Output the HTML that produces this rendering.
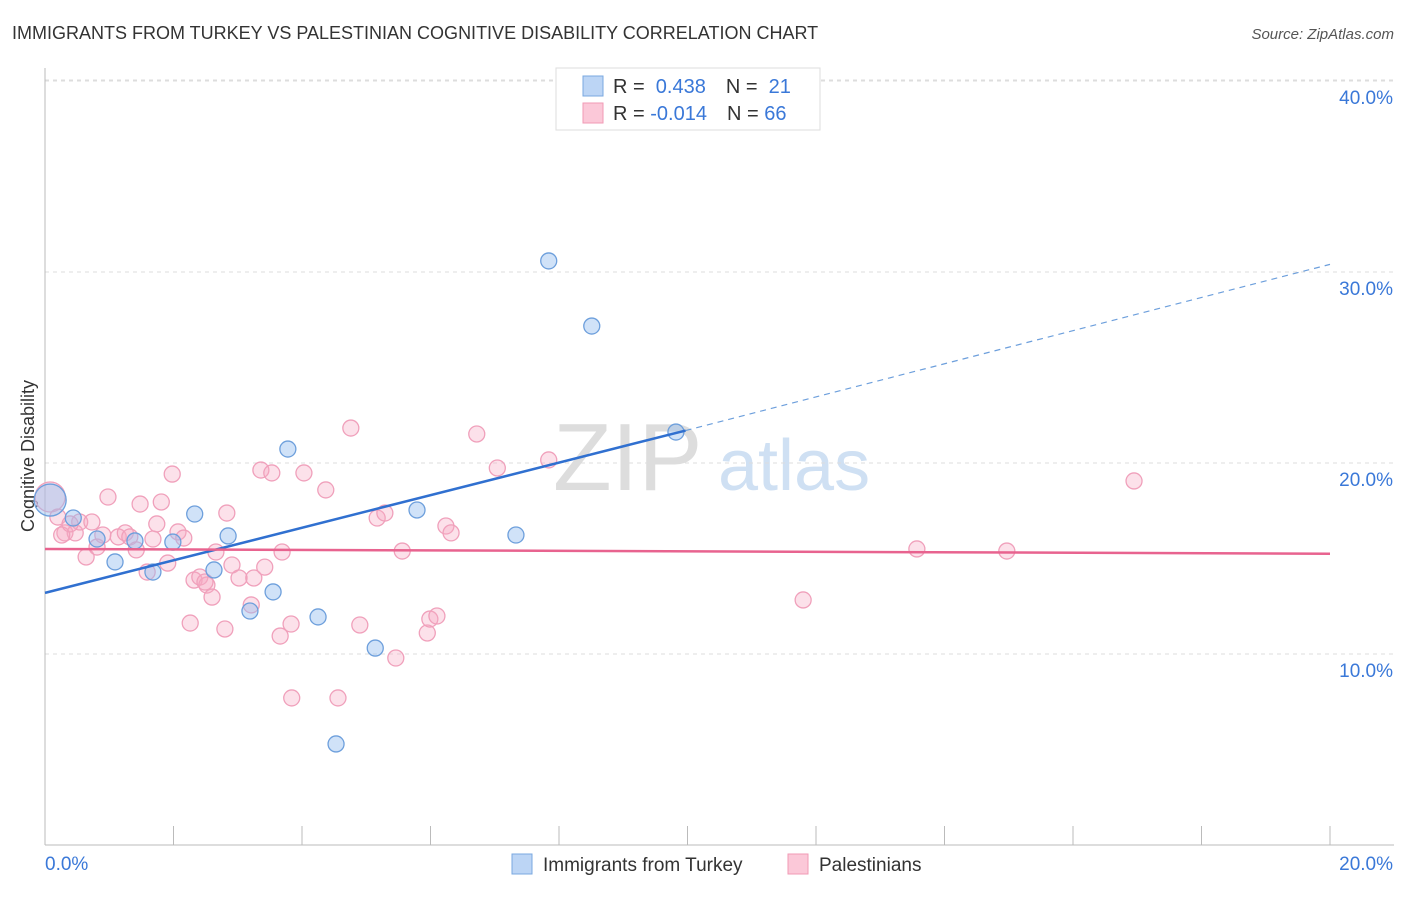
<!DOCTYPE html>
<html><head><meta charset="utf-8"><style>
body{margin:0;background:#fff;font-family:"Liberation Sans",sans-serif;}
svg text{font-family:"Liberation Sans",sans-serif;}
</style></head><body>
<svg id="c" width="1406" height="892">
<text x="12" y="39" font-size="18" fill="#333">IMMIGRANTS FROM TURKEY VS PALESTINIAN COGNITIVE DISABILITY CORRELATION CHART</text>
<text x="1394" y="39" font-size="15" fill="#555" text-anchor="end" font-style="italic">Source: ZipAtlas.com</text>
<text x="0" y="0" transform="translate(34,456) rotate(-90)" font-size="18" fill="#333" text-anchor="middle">Cognitive Disability</text>
<g><text x="553" y="490" font-size="96" fill="#ddd" font-family="Liberation Serif,serif">ZIP</text><text x="718" y="490" font-size="72" fill="#cfe0f3">atlas</text></g>
<g id="grid"></g><g id="axes"></g><g id="pts"></g><g id="trend"></g>
<g>
<rect x="556" y="68" width="264" height="62" fill="#fff" stroke="#ddd"/>
<rect x="583" y="76" width="20" height="20" fill="#bcd5f5" stroke="#7aa8e0"/>
<rect x="583" y="103" width="20" height="20" fill="#fbc8d8" stroke="#f09ab5"/>
<text x="613" y="93" font-size="20" fill="#333">R = <tspan fill="#3a78d8">&#160;0.438</tspan><tspan dx="20">N = </tspan><tspan fill="#3a78d8">&#160;21</tspan></text>
<text x="613" y="120" font-size="20" fill="#333">R = <tspan fill="#3a78d8">-0.014</tspan><tspan dx="20">N = </tspan><tspan fill="#3a78d8">66</tspan></text>
</g>
<g>
<rect x="512" y="854" width="20" height="20" fill="#bcd5f5" stroke="#7aa8e0"/>
<text x="543" y="871" font-size="19" fill="#333">Immigrants from Turkey</text>
<rect x="788" y="854" width="20" height="20" fill="#fbc8d8" stroke="#f09ab5"/>
<text x="819" y="871" font-size="19" fill="#333">Palestinians</text>
</g>
</svg>
<script>
const yTicks=[10,20,30,40];
const blueX=[0.08,0.44,0.81,1.09,1.40,1.68,1.99,2.33,2.63,2.85,3.19,3.55,3.78,4.25,4.53,5.14,5.79,7.33,7.84,8.51,9.82];
const blueY=[18.06,17.12,16.02,14.82,15.92,14.29,15.86,17.33,14.40,16.18,12.25,13.25,20.73,11.94,5.29,10.31,17.54,16.23,30.58,27.17,21.62];
const pinkX=[0.08,0.20,0.31,0.47,0.54,0.64,0.73,0.81,0.98,0.90,1.14,1.25,1.32,1.42,1.48,1.59,1.68,1.74,1.81,1.91,1.98,2.07,2.16,2.26,2.32,2.41,2.52,2.60,2.66,2.80,2.83,2.91,3.02,3.21,3.25,3.36,3.42,3.53,3.66,3.69,3.83,3.84,4.03,4.37,4.56,4.76,4.90,5.17,5.29,5.46,5.56,5.95,5.99,6.10,6.24,6.32,6.72,7.04,7.84,11.80,13.57,14.97,16.95,0.26,0.39,2.49];
const pinkY=[18.22,17.17,16.34,16.34,16.91,15.08,16.91,15.60,18.22,16.23,16.13,16.34,16.13,15.45,17.85,14.29,16.02,16.81,17.96,14.76,19.42,16.39,16.07,11.62,13.87,14.03,13.61,12.98,15.34,11.31,17.38,14.66,13.98,12.57,13.98,19.63,14.55,19.48,10.94,15.34,11.57,7.70,19.48,18.59,7.70,21.83,11.52,17.12,17.38,9.79,15.39,11.10,11.83,11.99,16.70,16.34,21.52,19.74,20.16,12.83,15.50,15.39,19.06,16.23,16.81,13.77];
const blueTrend=[[0,13.2],[9.97,21.7],[20,30.4]];
const pinkTrend=[[0,15.5],[20,15.25]];
const X=v=>45+v*64.25, Y=v=>845-v*19.1;
const NS="http://www.w3.org/2000/svg";
function mk(t,a,p){const e=document.createElementNS(NS,t);for(const k in a)e.setAttribute(k,a[k]);p.appendChild(e);return e;}
const g=document.getElementById('grid'),ax=document.getElementById('axes'),pts=document.getElementById('pts'),tr=document.getElementById('trend');
yTicks.forEach(t=>{
 const l=mk('line',{x1:45,x2:1394,y1:Y(t),y2:Y(t),stroke:'#ddd','stroke-dasharray':'4,4'},g);
 
 
 const tx=mk('text',{x:1393,y:Y(t)+23,'font-size':19,fill:'#3a78d8','text-anchor':'end'},ax);
 tx.textContent=t.toFixed(1)+'%';
 
 
});
const topGrid=mk('line',{x1:45,x2:1394,y1:Y(40)-1,y2:Y(40)-1,stroke:'#ddd','stroke-dasharray':'4,4'},g);
mk('line',{x1:45,x2:45,y1:68,y2:845,stroke:'#bbb'},ax);
mk('line',{x1:45,x2:1394,y1:845,y2:845,stroke:'#bbb'},ax);
for(let i=0;i<=10;i++){mk('line',{x1:X(i*2),x2:X(i*2),y1:826,y2:845,stroke:'#bbb'},ax);}
[[0,'0.0%','start',45],[20,'20.0%','end',1393]].forEach(d=>{
 const t=mk('text',{x:d[3],y:870,'font-size':19,fill:'#3a78d8','text-anchor':d[2]},ax);t.textContent=d[1];
 
 
});
pinkX.forEach((v,i)=>{
 const c=mk('circle',{cx:X(v),cy:Y(pinkY[i]),r:i==0?15:8,fill:'rgba(247,170,195,0.35)',stroke:'#f0a0bb','stroke-width':1.3},pts);
 
 
});
blueX.forEach((v,i)=>{
 const c=mk('circle',{cx:X(v),cy:Y(blueY[i]),r:i==0?16:8,fill:'rgba(150,190,240,0.45)',stroke:'#6d9fdc','stroke-width':1.3},pts);
 
 
});
const b1=mk('line',{x1:X(blueTrend[0][0]),y1:Y(blueTrend[0][1]),x2:X(blueTrend[1][0]),y2:Y(blueTrend[1][1]),stroke:'#3070d0','stroke-width':2.5},tr);


const b2=mk('line',{x1:X(blueTrend[1][0]),y1:Y(blueTrend[1][1]),x2:X(blueTrend[2][0]),y2:Y(blueTrend[2][1]),stroke:'#6d9fdc','stroke-width':1.2,'stroke-dasharray':'6,5'},tr);


const p1=mk('line',{x1:X(pinkTrend[0][0]),y1:Y(pinkTrend[0][1]),x2:X(pinkTrend[1][0]),y2:Y(pinkTrend[1][1]),stroke:'#e8638f','stroke-width':2.5},tr);


</script>
</body></html>
